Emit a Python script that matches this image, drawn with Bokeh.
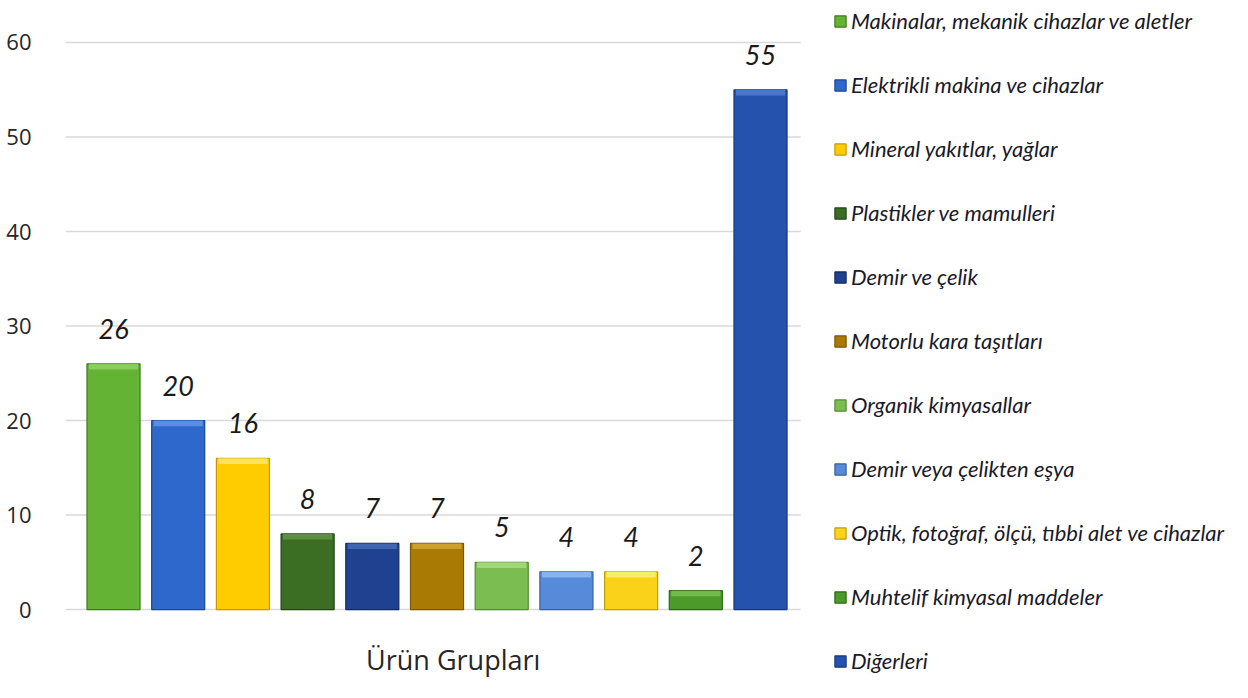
from bokeh.plotting import figure
from bokeh.models import (ColumnDataSource, Range1d, FixedTicker, LabelSet, Label,
                          Legend, LegendItem)
from bokeh.core.properties import value
from bokeh.embed import file_html
from bokeh.resources import INLINE

categories = [
    "Makinalar, mekanik cihazlar ve aletler",
    "Elektrikli makina ve cihazlar",
    "Mineral yakıtlar, yağlar",
    "Plastikler ve mamulleri",
    "Demir ve çelik",
    "Motorlu kara taşıtları",
    "Organik kimyasallar",
    "Demir veya çelikten eşya",
    "Optik, fotoğraf, ölçü, tıbbi alet ve cihazlar",
    "Muhtelif kimyasal maddeler",
    "Diğerleri",
]
values = [26, 20, 16, 8, 7, 7, 5, 4, 4, 2, 55]
y_ticks = [0, 10, 20, 30, 40, 50, 60]
x_axis_title = "Ürün Grupları"

colors = ["#64B334", "#2F68CC", "#FFCC00", "#3B6E22", "#1F4190", "#A97B04",
          "#7CBD52", "#578BDA", "#F9D219", "#4C9A2A", "#2452AD"]
edges = ["#3F7A1E", "#1D4690", "#C99A00", "#23451A", "#142B62", "#7A5800",
         "#558A35", "#36609E", "#BF9F0A", "#2F661A", "#17387A"]
highs = ["#8ED060", "#5E92E8", "#FFE36A", "#5F9444", "#4468B4", "#D0A430",
         "#A5D97F", "#8DB7F2", "#FFF070", "#75BE52", "#4F7BD0"]

n = len(categories)
positions = list(range(n))
src = ColumnDataSource(dict(
    x=positions, cat=categories, val=values,
    color=colors, edge=edges, hi=highs,
    hi_bottom=[v - 0.6 for v in values],
    label=[str(v) for v in values],
))

# plot-area extents (layout)
area_x0, area_x1 = -0.742, n - 0.38

p = figure(width=1232, height=682, output_backend="svg", toolbar_location=None,
           x_range=Range1d(area_x0, 17.295), y_range=Range1d(-7.72, 64.02),
           min_border_left=65, min_border_right=0, min_border_top=4, min_border_bottom=0)
p.outline_line_color = None
p.xaxis.visible = False
p.grid.visible = False

# horizontal gridlines limited to the plot area
grid_src = ColumnDataSource(dict(y=y_ticks, x0=[area_x0] * len(y_ticks), x1=[area_x1] * len(y_ticks)))
p.segment(x0="x0", x1="x1", y0="y", y1="y", source=grid_src,
          line_color="#d9d9d9", line_width=1.5)

bars = p.vbar(x="x", top="val", width=0.82, source=src,
              fill_color="color", line_color="edge", line_width=1.2)
p.vbar(x="x", top="val", bottom="hi_bottom", width=0.76, source=src,
       fill_color="hi", line_color=None, fill_alpha=0.9)

labels = LabelSet(x="x", y="val", text="label", source=src, y_offset=25,
                  text_align="center", text_baseline="bottom",
                  text_font=value("Lato"), text_font_style="italic",
                  text_font_size="27px", text_color="#1a1a1a")
p.add_layout(labels)

p.yaxis.ticker = FixedTicker(ticks=y_ticks)
p.yaxis.axis_line_color = None
p.yaxis.major_tick_line_color = None
p.yaxis.minor_tick_line_color = None
p.yaxis.major_label_standoff = 28
p.yaxis.major_label_text_font = "Open Sans"
p.yaxis.major_label_text_font_size = "22px"
p.yaxis.major_label_text_color = "#262626"

p.add_layout(Label(x=5.25, y=-5.25, text=x_axis_title, text_align="center",
                   text_baseline="middle", text_font="Open Sans",
                   text_font_size="27px", text_color="#262626"))

legend = Legend(items=[LegendItem(label=c, renderers=[bars], index=i)
                       for i, c in enumerate(categories)],
                location=(768, 8), margin=0, padding=0,
                border_line_color=None, background_fill_alpha=0,
                glyph_width=14, glyph_height=14, label_height=27, spacing=37,
                label_standoff=4,
                label_text_font="Lato", label_text_font_style="italic",
                label_text_font_size="22px", label_text_color="#1a1a2a")
p.add_layout(legend)

open("out.html", "w").write(file_html(p, INLINE))
